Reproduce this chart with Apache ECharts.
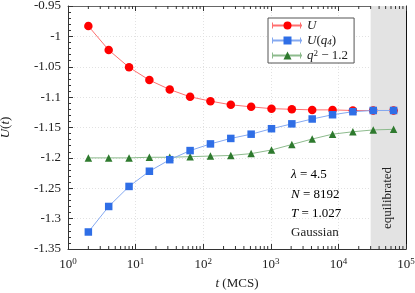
<!DOCTYPE html>
<html>
<head>
<meta charset="utf-8">
<script src="https://cdn.jsdelivr.net/npm/echarts@6/dist/echarts.min.js"></script>
<style>html,body{margin:0;padding:0;background:#fff}#c{width:415px;height:293px}</style>
</head>
<body>
<div id="c"></div>
<script>
// Data
var times = [2, 4, 8, 16, 32, 64, 128, 256, 512, 1024, 2048, 4096, 8192, 16384, 32768, 65536];
var seriesU = [-0.983, -1.0225, -1.051, -1.072, -1.0875, -1.0995, -1.1066, -1.1126, -1.116, -1.119, -1.120, -1.121, -1.121, -1.122, -1.122, -1.122];
var seriesUq4 = [-1.322, -1.280, -1.247, -1.222, -1.203, -1.188, -1.177, -1.168, -1.161, -1.152, -1.144, -1.136, -1.129, -1.124, -1.122, -1.122];
var seriesQ2 = [-1.200, -1.200, -1.200, -1.199, -1.199, -1.198, -1.197, -1.196, -1.193, -1.187, -1.178, -1.169, -1.161, -1.157, -1.154, -1.153];
var equilibratedRange = [30000, 100000];
var xMin = 1, xMax = 100000;
var yMin = -1.35, yMax = -0.95, yStep = 0.05;

function pairs(xs, ys) { return xs.map(function (x, i) { return [x, ys[i]]; }); }
var minorTickVals = [];
for (var e = 0; e < 5; e++) for (var m = 2; m <= 9; m++) minorTickVals.push([m * Math.pow(10, e)]);

var FONT = '"Liberation Serif", "DejaVu Serif", serif';
var chart = echarts.init(document.getElementById('c'), null, {renderer: 'canvas'});
var supRich = {
  b: {fontFamily: FONT, fontSize: 13, color: '#222'},
  s: {fontFamily: FONT, fontSize: 9, color: '#222', verticalAlign: 'bottom', padding: [0, 0, 7, 0]}
};
var LH = 13;
var legRich = {
  i: {fontFamily: FONT, fontSize: 13, fontStyle: 'italic', color: '#222', lineHeight: LH},
  r: {fontFamily: FONT, fontSize: 13, color: '#222', lineHeight: LH},
  sub: {fontFamily: FONT, fontSize: 9, fontStyle: 'italic', color: '#222', lineHeight: LH, verticalAlign: 'bottom', padding: [3, 0, 0, 0]},
  sup: {fontFamily: FONT, fontSize: 9, color: '#222', lineHeight: LH, verticalAlign: 'top'}
};
var axisCol = '#333';
var legendColors = ['#ff6f6f', '#85a9f0', '#8dbb8d'];
var capGraphics = [];
legendColors.forEach(function (c, k) {
  [272, 300].forEach(function (x) {
    capGraphics.push({type: 'line', z: 100, shape: {x1: x + 0.5, y1: 25.5 + 15 * k - 3, x2: x + 0.5, y2: 25.5 + 15 * k + 3}, style: {stroke: c, lineWidth: 1}});
  });
});
chart.setOption({
  animation: false,
  grid: {left: 68, right: 9, top: 6, bottom: 44, outerBoundsMode: 'none', containLabel: false},
  legend: {
    orient: 'vertical', left: 268, top: 18,
    data: ['U', 'Uq4', 'q2'],
    itemWidth: 29, itemHeight: 10, itemGap: 2,
    padding: [1, 6, 1, 4],
    backgroundColor: '#fff', borderColor: '#555', borderWidth: 1,
    formatter: function (n) {
      if (n === 'U') return '{i|U}';
      if (n === 'Uq4') return '{i|U}{r|(}{i|q}{sub|4}{r|)}';
      return '{i|q}{sup|2}{r| − 1.2}';
    },
    textStyle: {rich: legRich, fontFamily: FONT, fontSize: 13, lineHeight: LH}
  },
  xAxis: [{
    type: 'log', logBase: 10, min: xMin, max: xMax,
    name: '{i|t} (MCS)', nameLocation: 'middle', nameGap: 28,
    nameTextStyle: {rich: legRich, fontFamily: FONT, fontSize: 13, color: '#222'},
    axisLine: {show: true, onZero: false, lineStyle: {color: axisCol, width: 1}},
    axisTick: {show: true, inside: true, length: 5, lineStyle: {color: axisCol}},
    axisLabel: {margin: 8, formatter: function (v) { return '{b|10}{s|' + Math.round(Math.log10(v)) + '}'; }, rich: supRich},
    splitLine: {show: true, lineStyle: {color: '#e2e2e2', type: [1, 2]}}
  }, {
    type: 'log', logBase: 10, min: xMin, max: xMax, position: 'top',
    axisLine: {show: true, onZero: false, lineStyle: {color: '#666', width: 1}},
    axisTick: {show: true, inside: true, length: 5, lineStyle: {color: axisCol}},
    axisLabel: {show: false}, splitLine: {show: false}
  }],
  yAxis: [{
    type: 'value', min: yMin, max: yMax, interval: yStep,
    name: '{i|U}{r|(}{i|t}{r|)}', nameLocation: 'middle', nameGap: 56, nameRotate: 90,
    nameTextStyle: {rich: legRich, fontFamily: FONT, fontSize: 13, color: '#222'},
    axisLine: {show: true, onZero: false, lineStyle: {color: axisCol, width: 1}},
    axisTick: {show: true, inside: true, length: 5, lineStyle: {color: axisCol}},
    minorTick: {show: true, splitNumber: 5, length: 3, lineStyle: {color: axisCol}},
    axisLabel: {margin: 7, fontFamily: FONT, fontSize: 13, color: '#222',
      formatter: function (v) { return String(parseFloat(v.toFixed(2))); }},
    splitLine: {show: true, lineStyle: {color: '#e2e2e2', type: [1, 2]}}
  }, {
    type: 'value', min: yMin, max: yMax, interval: yStep, position: 'right',
    axisLine: {show: true, onZero: false, lineStyle: {color: '#111', width: 1}},
    axisTick: {show: true, inside: true, length: 5, lineStyle: {color: axisCol}},
    minorTick: {show: true, splitNumber: 5, length: 3, lineStyle: {color: axisCol}},
    axisLabel: {show: false}, splitLine: {show: false}
  }],
  series: [{
    name: 'area', type: 'line', data: [], z: 1, silent: true,
    markArea: {silent: true, itemStyle: {color: '#e3e3e3'},
      data: [[{xAxis: equilibratedRange[0]}, {xAxis: equilibratedRange[1]}]]}
  }, {
    name: 'minor', type: 'custom', data: minorTickVals, z: 2, silent: true, clip: false,
    renderItem: function (params, api) {
      var b = api.coord([api.value(0), yMin]);
      var t = api.coord([api.value(0), yMax]);
      return {type: 'group', children: [
        {type: 'line', shape: {x1: b[0], y1: b[1], x2: b[0], y2: b[1] - 3}, style: {stroke: axisCol, lineWidth: 1}},
        {type: 'line', shape: {x1: t[0], y1: t[1], x2: t[0], y2: t[1] + 3}, style: {stroke: axisCol, lineWidth: 1}}
      ]};
    }
  }, {
    name: 'U', type: 'line', data: pairs(times, seriesU), z: 5,
    symbol: 'circle', symbolSize: 8.5,
    itemStyle: {color: '#ff0000'}, lineStyle: {color: legendColors[0], width: 1}
  }, {
    name: 'q2', type: 'line', data: pairs(times, seriesQ2), z: 5,
    symbol: 'triangle', symbolSize: 7.5,
    itemStyle: {color: '#2e7a2e'}, lineStyle: {color: legendColors[2], width: 1}
  }, {
    name: 'Uq4', type: 'line', data: pairs(times, seriesUq4), z: 6,
    symbol: 'rect', symbolSize: 7.5,
    itemStyle: {color: '#2f6ee6'}, lineStyle: {color: legendColors[1], width: 1}
  }],
  graphic: capGraphics.concat([
    {type: 'text', z: 100, left: 291, top: 168, style: {text: '{i|λ}{r| = 4.5}', rich: legRich}},
    {type: 'text', z: 100, left: 291, top: 188, style: {text: '{i|N}{r| = 8192}', rich: legRich}},
    {type: 'text', z: 100, left: 291, top: 207, style: {text: '{i|T}{r| = 1.027}', rich: legRich}},
    {type: 'text', z: 100, left: 291, top: 226, style: {text: 'Gaussian', font: '13px ' + FONT, fill: '#222'}},
    {type: 'text', z: 100, x: 388, y: 198, rotation: Math.PI / 2,
      style: {text: 'equilibrated', font: '13px ' + FONT, fill: '#222', align: 'center', verticalAlign: 'middle'}}
  ])
});
</script>
</body>
</html>
